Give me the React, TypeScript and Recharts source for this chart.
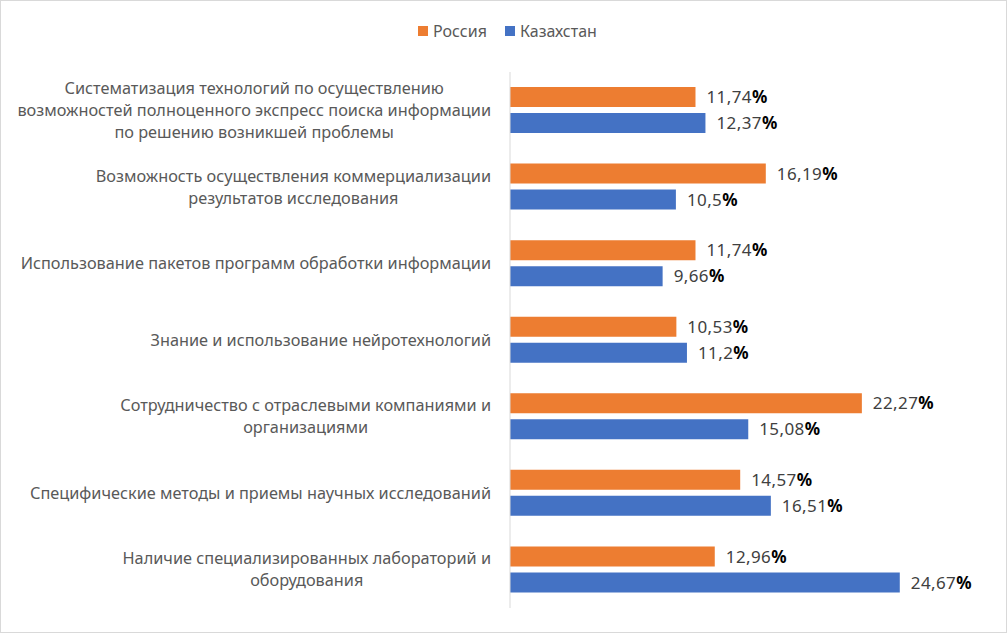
import React from "react";
import { BarChart, Bar, XAxis, YAxis, LabelList } from "recharts";

const categories = [
  "Систематизация технологий по осуществлению\nвозможностей полноценного экспресс поиска информации\nпо решению возникшей проблемы",
  "Возможность осуществления коммерциализации\nрезультатов исследования",
  "Использование пакетов программ обработки информации",
  "Знание и использование нейротехнологий",
  "Сотрудничество с отраслевыми компаниями и\nорганизациями",
  "Специфические методы и приемы научных исследований",
  "Наличие специализированных лабораторий и\nоборудования",
];
const russia = [11.74, 16.19, 11.74, 10.53, 22.27, 14.57, 12.96];
const kazakhstan = [12.37, 10.5, 9.66, 11.2, 15.08, 16.51, 24.67];

const data = categories.map((name, i) => ({ name, russia: russia[i], kazakhstan: kazakhstan[i] }));

const FONT = "'Noto Sans', 'Open Sans', sans-serif";
const FONT_SIZE = 16.3;

let ctx: CanvasRenderingContext2D | null = null;
const measure = (s: string) => {
  if (!ctx) ctx = document.createElement("canvas").getContext("2d");
  if (!ctx) return s.length * 8;
  ctx.font = `${FONT_SIZE}px ${FONT}`;
  return ctx.measureText(s).width;
};

// label block is right aligned at the axis, lines centred inside it
const CategoryTick = (props: any) => {
  const { x, y, payload } = props;
  const lines: string[] = String(payload.value).split("\n");
  const maxW = Math.max(...lines.map(measure));
  const cx = x - maxW / 2;
  const lh = 22;
  const top = y - ((lines.length - 1) * lh) / 2;
  return (
    <text textAnchor="middle" fill="#595959" fontSize={FONT_SIZE} fontFamily={FONT}>
      {lines.map((l, i) => (
        <tspan key={i} x={cx} y={top + i * lh} dy="0.35em">
          {l}
        </tspan>
      ))}
    </text>
  );
};

const ValueLabel = (props: any) => {
  const { x, y, width, height, value } = props;
  return (
    <text
      x={x + width + 11}
      y={y + height / 2}
      dy="0.36em"
      fontSize={17}
      letterSpacing={0.4}
      fontFamily={FONT}
      fill="#404040"
    >
      {String(value).replace(".", ",")}
      <tspan fontWeight="bold" fill="#000000">%</tspan>
    </text>
  );
};

const LegendBox = () => (
  <div
    style={{
      position: "absolute",
      top: 19,
      left: 0,
      width: 1007,
      display: "flex",
      justifyContent: "center",
      fontFamily: FONT,
      fontSize: 16,
      color: "#595959",
      gap: 18,
      paddingLeft: 6,
      boxSizing: "border-box",
    }}
  >
    {[
      ["Россия", "#ED7D31"],
      ["Казахстан", "#4472C4"],
    ].map(([label, color]) => (
      <div key={label} style={{ display: "flex", alignItems: "center" }}>
        <span style={{ width: 10, height: 10, background: color, display: "inline-block", marginRight: 5 }} />
        <span>{label}</span>
      </div>
    ))}
  </div>
);

export default function App() {
  return (
    <div
      style={{
        position: "absolute",
        left: 0,
        top: 0,
        width: 1005,
        height: 631,
        border: "1px solid #d9d9d9",
        background: "#fff",
      }}
    >
      <LegendBox />
      <BarChart
        width={1005}
        height={631}
        data={data}
        layout="vertical"
        margin={{ top: 71, right: 22, bottom: 24, left: 0 }}
        barSize={20}
        barGap={6}
      >
        <XAxis type="number" domain={[0, 30]} hide />
        <YAxis
          type="category"
          dataKey="name"
          width={509}
          tickSize={0}
          tickMargin={19}
          tickLine={false}
          axisLine={{ stroke: "#d9d9d9" }}
          tick={<CategoryTick />}
          interval={0}
        />
        <Bar dataKey="russia" name="Россия" fill="#ED7D31" isAnimationActive={false}>
          <LabelList dataKey="russia" content={<ValueLabel />} />
        </Bar>
        <Bar dataKey="kazakhstan" name="Казахстан" fill="#4472C4" isAnimationActive={false}>
          <LabelList dataKey="kazakhstan" content={<ValueLabel />} />
        </Bar>
      </BarChart>
    </div>
  );
}
